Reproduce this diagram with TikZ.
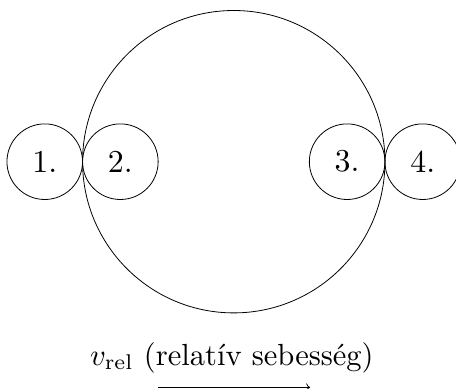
\documentclass[tikz,border=0pt]{standalone}
\usetikzlibrary{arrows.meta}
\newcommand{\biglbl}[1]{\scalebox{2.4}{#1}}
\newcommand{\captext}[1]{\scalebox{2.3}{#1}}
\begin{document}
\begin{tikzpicture}[line width=0.6pt,
  ball/.style={draw, circle, minimum size=2cm, inner sep=0pt},
  bigball/.style={draw, circle, minimum size=8cm, inner sep=0pt}
]
\useasboundingbox (-6.184,-6.013) rectangle (5.880,4.278);
\node[bigball] (big) at (0,0) {};
\node[ball] (b1) at (-5,0) {\biglbl{1.}};
\node[ball] (b2) at (-3,0) {\biglbl{2.}};
\node[ball] (b3) at (3,0) {\biglbl{3.}};
\node[ball] (b4) at (5,0) {\biglbl{4.}};
\node[anchor=base, inner sep=0pt] (lbl) at (-0.05,-5.38) {\captext{$v_{\mathrm{rel}}$ (relatív sebesség)}};
\coordinate (as) at (-2,-5.97);
\coordinate (ae) at (2.02,-5.97);
\draw[->] (as) -- (ae);
\end{tikzpicture}
\end{document}
